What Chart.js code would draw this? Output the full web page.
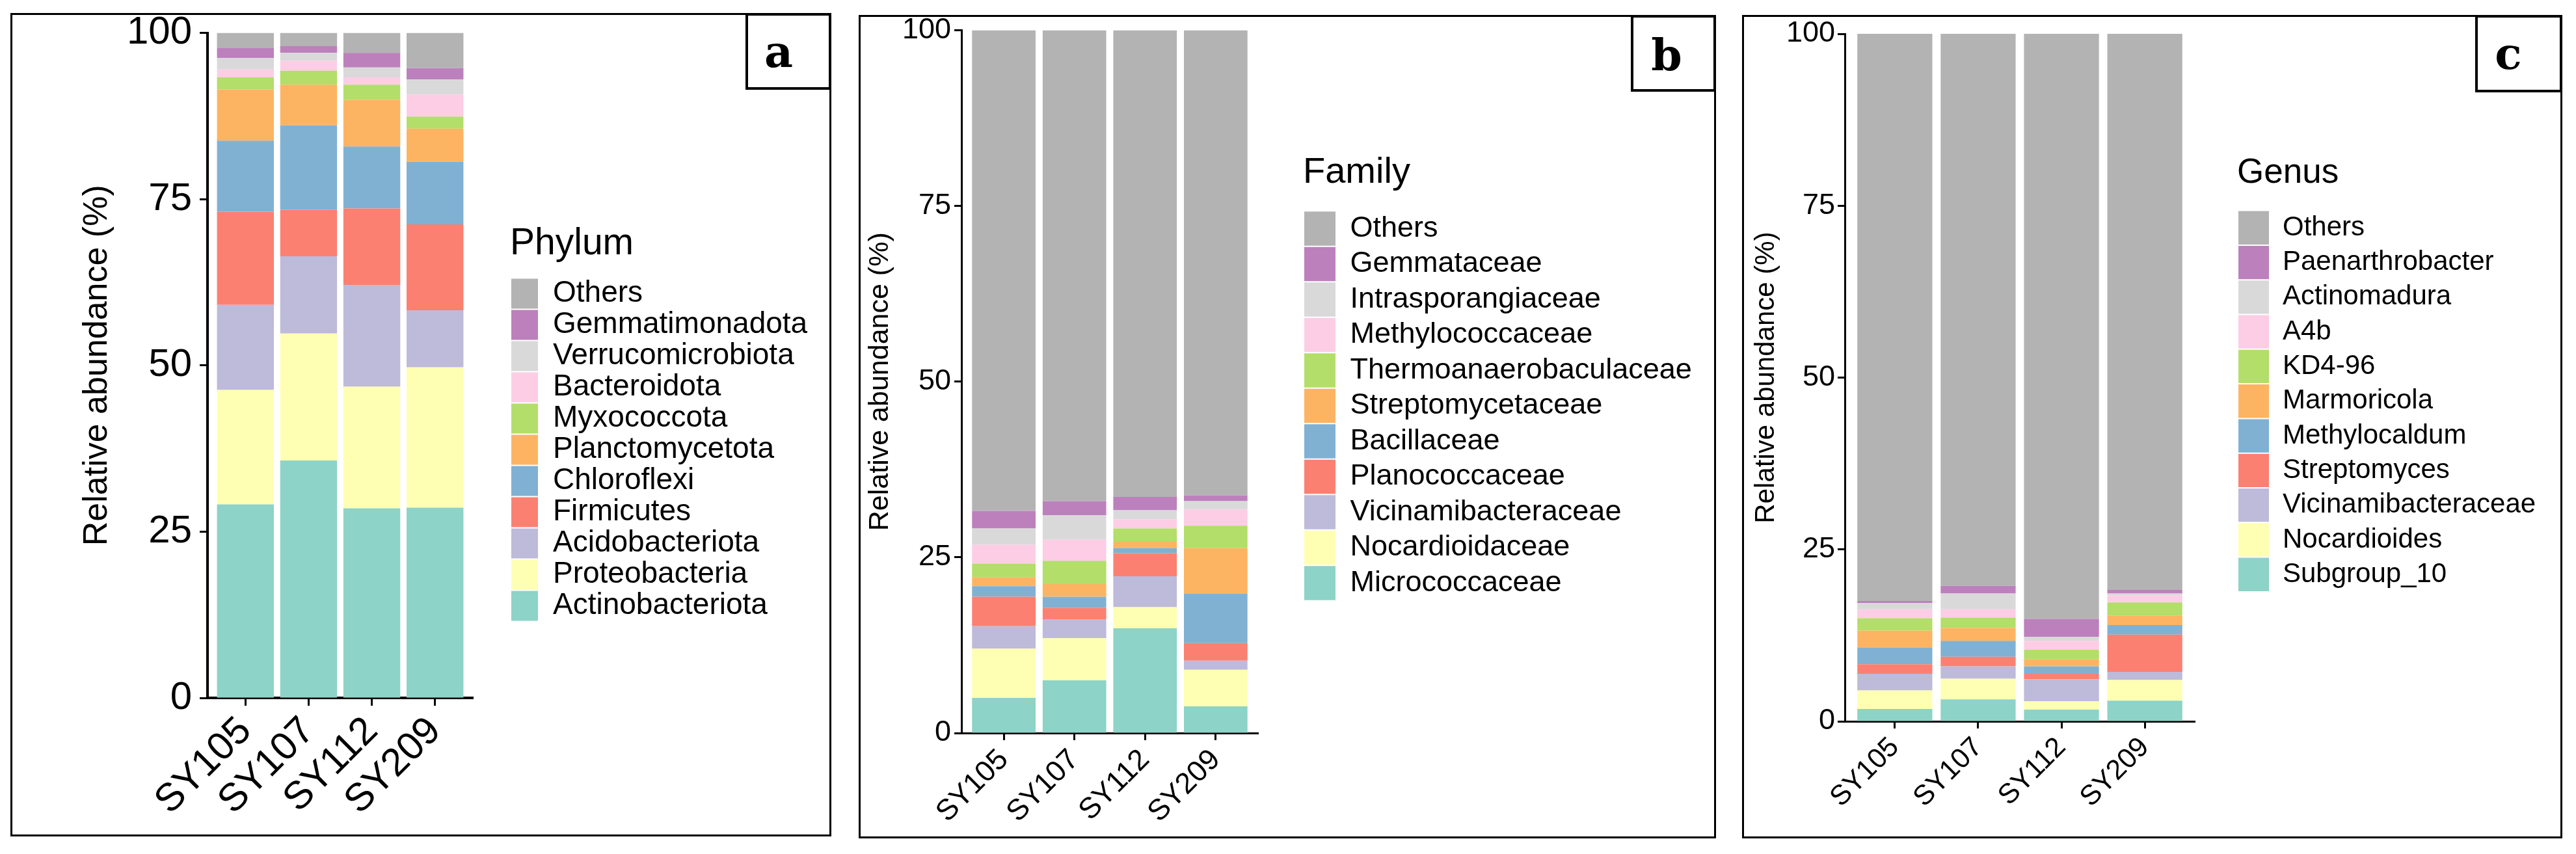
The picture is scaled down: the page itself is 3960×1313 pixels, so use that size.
<!DOCTYPE html>
<html>
<head>
<meta charset="utf-8">
<script src="https://cdn.jsdelivr.net/npm/chart.js@4/dist/chart.umd.min.js"></script>
<style>
html,body{margin:0;padding:0;background:#fff;}
body{width:3960px;height:1313px;position:relative;overflow:hidden;}
.cv{position:absolute;top:0;}
.frame{position:absolute;border:3px solid #000;box-sizing:border-box;pointer-events:none;}
.tag{position:absolute;border:4px solid #000;box-sizing:border-box;background:#fff;}
.letter{position:absolute;width:100px;text-align:center;font-family:'DejaVu Serif',serif;font-weight:bold;font-size:68px;line-height:68px;color:#000;}
</style>
</head>
<body>
<canvas id="ca" class="cv"></canvas>
<canvas id="cb" class="cv"></canvas>
<canvas id="cc" class="cv"></canvas>

<div class="frame" style="left:16px;top:20px;width:1262px;height:1266px;"></div>
<div class="frame" style="left:1320px;top:23px;width:1318px;height:1266px;"></div>
<div class="frame" style="left:2678px;top:23px;width:1261px;height:1266px;"></div>

<div class="tag" style="left:1146px;top:20px;width:132px;height:118px;"></div>
<div class="tag" style="left:2507px;top:23px;width:131px;height:118px;"></div>
<div class="tag" style="left:3805px;top:23px;width:134px;height:119px;"></div>
<div class="letter" style="left:1147px;top:45px;">a</div>
<div class="letter" style="left:2512px;top:50px;">b</div>
<div class="letter" style="left:3806px;top:48px;">c</div>

<script>
// ---------- DATA ----------
const samples = ['SY105', 'SY107', 'SY112', 'SY209'];
const yTickValues = [0, 25, 50, 75, 100];
const yTitle = 'Relative abundance (%)';

// Panel a: Phylum (bottom of stack -> top)
const phylumSeries = ['Actinobacteriota', 'Proteobacteria', 'Acidobacteriota', 'Firmicutes', 'Chloroflexi',
  'Planctomycetota', 'Myxococcota', 'Bacteroidota', 'Verrucomicrobiota', 'Gemmatimonadota', 'Others'];
const phylumValues = [
  [29.1, 35.7, 28.5, 28.6],
  [17.2, 19.1, 18.3, 21.1],
  [12.8, 11.6, 15.3, 8.6],
  [14.0, 7.0, 11.5, 12.9],
  [10.7, 12.7, 9.3, 9.4],
  [7.7, 6.1, 7.0, 5.0],
  [1.8, 2.1, 2.3, 1.8],
  [1.2, 1.5, 1.1, 3.3],
  [1.7, 1.2, 1.5, 2.3],
  [1.5, 1.0, 2.2, 1.7],
  [2.3, 2.0, 3.0, 5.3]
];

// Panel b: Family
const familySeries = ['Micrococcaceae', 'Nocardioidaceae', 'Vicinamibacteraceae', 'Planococcaceae', 'Bacillaceae',
  'Streptomycetaceae', 'Thermoanaerobaculaceae', 'Methylococcaceae', 'Intrasporangiaceae', 'Gemmataceae', 'Others'];
const familyValues = [
  [5.0, 7.5, 14.9, 3.8],
  [7.0, 6.0, 3.0, 5.2],
  [3.2, 2.7, 4.4, 1.3],
  [4.2, 1.6, 3.3, 2.5],
  [1.5, 1.6, 0.7, 7.0],
  [1.3, 1.8, 0.9, 6.5],
  [1.9, 3.3, 1.9, 3.2],
  [2.7, 3.0, 1.3, 2.3],
  [2.3, 3.5, 1.3, 1.2],
  [2.5, 2.0, 1.9, 0.8],
  [68.4, 67.0, 66.4, 66.2]
];

// Panel c: Genus
const genusSeries = ['Subgroup_10', 'Nocardioides', 'Vicinamibacteraceae', 'Streptomyces', 'Methylocaldum',
  'Marmoricola', 'KD4-96', 'A4b', 'Actinomadura', 'Paenarthrobacter', 'Others'];
const genusValues = [
  [1.8, 3.2, 1.7, 3.0],
  [2.7, 3.0, 1.2, 3.0],
  [2.4, 1.8, 3.2, 1.2],
  [1.4, 1.4, 0.8, 5.4],
  [2.4, 2.3, 1.1, 1.4],
  [2.5, 1.9, 1.0, 1.4],
  [1.8, 1.5, 1.4, 1.9],
  [1.3, 1.2, 1.3, 1.0],
  [0.9, 2.3, 0.6, 0.3],
  [0.3, 1.1, 2.6, 0.5],
  [82.5, 80.3, 85.1, 80.9]
];

// ---------- STYLE ----------
const palette = ['#8DD3C7', '#FFFFB3', '#BEBADA', '#FB8072', '#80B1D3', '#FDB462',
  '#B3DE69', '#FCCDE5', '#D9D9D9', '#BC80BD', '#B3B3B3'];
const FONT = "'Liberation Sans', Arial, sans-serif";
const H = 1313;

const panels = [
  { id: 'ca', left: 0, width: 1300, L: 319, R: 727, T: 50.5, B: 1073,
    tickFont: 60, xTickFont: 60, titleFont: 52, titlePad: 118, tickLen: 12, tickPad: 12, axisW: 4,
    legendTitle: 'Phylum', series: phylumSeries, values: phylumValues,
    lx: 784, ly: 347, boxW: 41, boxH: 46, lFont: 46, ltFont: 57, ltPad: 11 },
  { id: 'cb', left: 1300, width: 1360, L: 178, R: 634, T: 46.5, B: 1127,
    tickFont: 45, xTickFont: 45, titleFont: 43, titlePad: 27, tickLen: 11, tickPad: 5, axisW: 3,
    legendTitle: 'Family', series: familySeries, values: familyValues,
    lx: 703, ly: 238, boxW: 48, boxH: 52.5, lFont: 45, ltFont: 56, ltPad: 18 },
  { id: 'cc', left: 2660, width: 1300, L: 176, R: 714, T: 52, B: 1109,
    tickFont: 45, xTickFont: 43, titleFont: 42, titlePad: 30, tickLen: 11, tickPad: 4, axisW: 3,
    legendTitle: 'Genus', series: genusSeries, values: genusValues,
    lx: 779, ly: 240, boxW: 47, boxH: 51.3, lFont: 42, ltFont: 53, ltPad: 19 }
];

// Moves the (chartArea) legend to a fixed place to the right of the plot
const legendPlace = {
  id: 'legendPlace',
  beforeDraw(chart, args, opts) {
    const lg = chart.legend;
    if (!lg) return;
    lg.left = opts.x; lg.right = opts.x + 1000;
    lg.top = opts.y; lg.bottom = opts.y + 1200;
  }
};

panels.forEach(p => {
  const cv = document.getElementById(p.id);
  cv.width = p.width; cv.height = H;
  cv.style.left = p.left + 'px';
  cv.style.width = p.width + 'px'; cv.style.height = H + 'px';

  const datasets = p.series.map((name, k) => ({
    label: name,
    data: p.values[k].map((v, i) => ({ x: i + 1, y: v })),
    backgroundColor: palette[k],
    borderWidth: 0,
    categoryPercentage: 1.0,
    barPercentage: 0.9
  }));

  new Chart(cv, {
    type: 'bar',
    data: { datasets },
    options: {
      responsive: false,
      animation: false,
      devicePixelRatio: 1,
      layout: { padding: { left: 0, top: p.T, right: p.width - p.R, bottom: 0 } },
      plugins: {
        tooltip: { enabled: false },
        legendPlace: { x: p.lx, y: p.ly },
        legend: {
          display: true,
          position: 'chartArea',
          align: 'start',
          reverse: true,
          maxWidth: 3000,
          title: { display: true, text: p.legendTitle, position: 'start', color: '#000',
                   font: { family: FONT, size: p.ltFont }, padding: { top: 0, bottom: p.ltPad } },
          labels: { boxWidth: p.boxW, boxHeight: p.boxH, padding: 2, color: '#000',
                    font: { family: FONT, size: p.lFont } }
        }
      },
      scales: {
        x: {
          type: 'linear', min: 0.4, max: 4.6, stacked: true, offset: false,
          afterBuildTicks: s => { s.ticks = samples.map((_, i) => ({ value: i + 1 })); },
          afterFit: s => { s.height = H - p.B; },
          ticks: { autoSkip: false, minRotation: 45, maxRotation: 45, padding: 4, color: '#000',
                   font: { family: FONT, size: p.xTickFont },
                   callback: v => samples[Math.round(v) - 1] },
          grid: { display: true, drawOnChartArea: false, drawTicks: true, tickLength: p.tickLen,
                  tickWidth: 3, tickColor: '#000', offset: false },
          border: { display: true, color: '#000', width: p.axisW }
        },
        y: {
          type: 'linear', min: 0, max: 100, stacked: true,
          afterBuildTicks: s => { s.ticks = yTickValues.map(v => ({ value: v })); },
          afterFit: s => { s.width = p.L; },
          ticks: { padding: p.tickPad, color: '#000', font: { family: FONT, size: p.tickFont } },
          grid: { display: true, drawOnChartArea: false, drawTicks: true, tickLength: p.tickLen,
                  tickWidth: 3, tickColor: '#000' },
          border: { display: true, color: '#000', width: p.axisW },
          title: { display: true, text: yTitle, color: '#000',
                   font: { family: FONT, size: p.titleFont }, padding: { top: p.titlePad, bottom: 0 } }
        }
      }
    },
    plugins: [legendPlace]
  });
});
</script>
</body>
</html>
